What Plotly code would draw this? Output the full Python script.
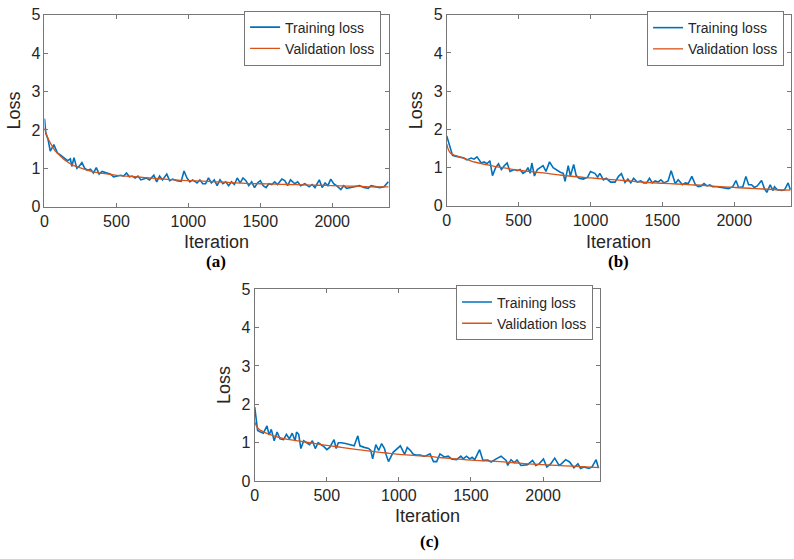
import plotly.graph_objects as go

# ---------------- data ----------------
a_train_iter = [0, 10, 25, 40, 65, 90, 110, 140, 160, 180, 190, 205, 225, 240, 260, 280, 300, 320, 340, 360,
                380, 400, 430, 460, 480, 500, 530, 550, 570, 590, 610, 630, 650, 670, 690, 710, 730, 760, 780, 800,
                820, 850, 870, 890, 920, 950, 970, 990, 1010, 1030, 1060, 1080, 1100, 1120, 1140, 1160, 1180, 1200,
                1220, 1240, 1260, 1280, 1300, 1320, 1340, 1360, 1380, 1400, 1420, 1440, 1460, 1480, 1500, 1520,
                1540, 1560, 1580, 1600, 1620, 1650, 1670, 1690, 1710, 1740, 1760, 1780, 1810, 1840, 1860, 1880,
                1910, 1930, 1950, 1970, 1990, 2010, 2030, 2060, 2080, 2100, 2130, 2160, 2190, 2220, 2250, 2270,
                2300, 2330, 2360, 2390]
a_train_loss = [2.30, 1.90, 1.75, 1.45, 1.62, 1.40, 1.35, 1.25, 1.20, 1.25, 1.05, 1.28, 1.00, 1.05, 1.15, 1.00,
                0.95, 0.98, 0.88, 1.02, 0.85, 0.92, 0.88, 0.85, 0.78, 0.80, 0.82, 0.80, 0.88, 0.78, 0.80, 0.75,
                0.80, 0.70, 0.72, 0.75, 0.70, 0.82, 0.65, 0.80, 0.70, 0.85, 0.68, 0.72, 0.68, 0.66, 0.93, 0.75,
                0.65, 0.70, 0.62, 0.70, 0.60, 0.60, 0.75, 0.62, 0.70, 0.55, 0.70, 0.60, 0.65, 0.55, 0.65, 0.58,
                0.75, 0.62, 0.75, 0.68, 0.55, 0.65, 0.50, 0.62, 0.68, 0.55, 0.50, 0.60, 0.58, 0.65, 0.58, 0.72,
                0.68, 0.55, 0.70, 0.60, 0.65, 0.55, 0.60, 0.52, 0.58, 0.50, 0.70, 0.50, 0.62, 0.55, 0.72, 0.60,
                0.55, 0.45, 0.55, 0.48, 0.50, 0.52, 0.55, 0.50, 0.48, 0.55, 0.52, 0.50, 0.52, 0.65]
a_val_iter = [0, 10, 25, 50, 75, 100, 150, 200, 250, 300, 350, 400, 500, 600, 700, 800, 900, 1000, 1100, 1200,
              1300, 1400, 1500, 1600, 1700, 1800, 1900, 2000, 2100, 2200, 2300, 2390]
a_val_loss = [2.05, 1.92, 1.78, 1.60, 1.45, 1.36, 1.19, 1.08, 1.01, 0.95, 0.90, 0.87, 0.82, 0.79, 0.76, 0.73,
              0.70, 0.68, 0.67, 0.65, 0.63, 0.61, 0.60, 0.59, 0.58, 0.57, 0.56, 0.55, 0.54, 0.53, 0.52, 0.52]

b_train_iter = [0, 20, 40, 60, 90, 120, 140, 170, 190, 210, 240, 260, 280, 300, 318, 340, 360, 380, 400, 420,
                440, 470, 490, 510, 530, 550, 565, 580, 592, 610, 630, 650, 670, 690, 715, 740, 770, 790, 810, 823,
                845, 860, 883, 900, 920, 950, 980, 1000, 1030, 1050, 1065, 1090, 1110, 1140, 1171, 1195, 1215,
                1240, 1260, 1280, 1300, 1325, 1350, 1370, 1390, 1410, 1430, 1450, 1470, 1490, 1510, 1540, 1561,
                1590, 1610, 1640, 1660, 1680, 1705, 1730, 1750, 1770, 1790, 1810, 1830, 1850, 1880, 1900, 1930,
                1960, 1990, 2012, 2030, 2060, 2081, 2100, 2120, 2140, 2160, 2190, 2210, 2227, 2250, 2270, 2280,
                2300, 2330, 2350, 2375, 2390]
b_train_loss = [1.83, 1.55, 1.32, 1.30, 1.28, 1.25, 1.20, 1.25, 1.22, 1.28, 1.12, 1.15, 1.10, 1.18, 0.79, 1.00,
                1.10, 0.95, 1.05, 1.12, 0.90, 0.95, 0.92, 0.95, 0.85, 0.90, 1.00, 0.85, 1.12, 0.78, 0.95, 1.00,
                1.05, 0.90, 1.15, 1.00, 0.92, 0.88, 0.85, 0.64, 1.05, 0.78, 1.08, 0.80, 0.72, 0.70, 0.75, 0.90,
                0.85, 0.75, 0.85, 0.68, 0.72, 0.62, 0.62, 0.77, 0.84, 0.61, 0.70, 0.60, 0.72, 0.62, 0.65, 0.60,
                0.60, 0.72, 0.60, 0.65, 0.62, 0.68, 0.60, 0.65, 0.92, 0.58, 0.68, 0.55, 0.60, 0.58, 0.77, 0.55,
                0.50, 0.52, 0.58, 0.52, 0.55, 0.50, 0.50, 0.48, 0.47, 0.45, 0.50, 0.66, 0.48, 0.50, 0.77, 0.55,
                0.55, 0.48, 0.52, 0.66, 0.45, 0.35, 0.55, 0.40, 0.50, 0.42, 0.40, 0.42, 0.60, 0.42]
b_val_iter = [0, 10, 25, 50, 100, 150, 200, 300, 400, 500, 600, 700, 800, 900, 1000, 1100, 1200, 1300, 1400,
              1500, 1600, 1700, 1800, 1900, 2000, 2100, 2200, 2300, 2390]
b_val_loss = [1.62, 1.48, 1.38, 1.33, 1.27, 1.20, 1.14, 1.06, 0.99, 0.93, 0.89, 0.85, 0.80, 0.76, 0.73, 0.70,
              0.67, 0.64, 0.61, 0.59, 0.57, 0.55, 0.53, 0.50, 0.48, 0.46, 0.44, 0.42, 0.41]

c_train_iter = [0, 20, 40, 60, 85, 100, 115, 135, 155, 175, 200, 220, 240, 260, 280, 290, 305, 320, 340, 360,
                380, 400, 420, 440, 460, 480, 500, 520, 550, 565, 580, 600, 630, 660, 690, 715, 730, 760, 790, 805,
                818, 840, 860, 880, 900, 912, 928, 960, 990, 1010, 1040, 1058, 1080, 1100, 1120, 1150, 1170, 1182,
                1216, 1240, 1262, 1285, 1315, 1342, 1365, 1400, 1430, 1446, 1469, 1492, 1508, 1526, 1560, 1583,
                1617, 1640, 1675, 1709, 1744, 1755, 1778, 1801, 1819, 1847, 1893, 1927, 1950, 1973, 2003, 2026,
                2053, 2081, 2111, 2127, 2157, 2184, 2214, 2242, 2260, 2283, 2318, 2340, 2368, 2384]
c_train_loss = [1.93, 1.32, 1.28, 1.25, 1.44, 1.20, 1.35, 1.05, 1.28, 1.10, 1.08, 1.22, 1.10, 1.25, 1.05, 1.28,
                1.22, 0.85, 1.05, 1.00, 0.95, 1.05, 0.85, 1.00, 0.95, 0.90, 0.82, 0.88, 1.08, 0.85, 1.00, 1.00,
                0.98, 0.95, 0.92, 1.18, 0.92, 0.88, 0.85, 0.80, 0.58, 0.95, 0.80, 0.98, 0.85, 0.68, 0.51, 0.75,
                0.85, 0.92, 0.70, 0.88, 0.80, 0.70, 0.68, 0.68, 0.65, 0.65, 0.71, 0.51, 0.51, 0.71, 0.63, 0.65,
                0.58, 0.56, 0.65, 0.58, 0.65, 0.58, 0.62, 0.56, 0.82, 0.54, 0.55, 0.50, 0.58, 0.65, 0.54, 0.41,
                0.56, 0.48, 0.55, 0.41, 0.43, 0.54, 0.41, 0.45, 0.58, 0.37, 0.45, 0.60, 0.41, 0.45, 0.56, 0.50,
                0.35, 0.45, 0.33, 0.37, 0.33, 0.37, 0.56, 0.35]
c_val_iter = [0, 10, 30, 80, 150, 200, 300, 400, 500, 600, 700, 800, 900, 1000, 1100, 1200, 1300, 1400, 1500,
              1600, 1700, 1800, 1900, 2000, 2100, 2200, 2300, 2390]
c_val_loss = [1.55, 1.45, 1.35, 1.25, 1.16, 1.11, 1.05, 0.99, 0.93, 0.88, 0.83, 0.78, 0.74, 0.70, 0.67, 0.65,
              0.61, 0.58, 0.55, 0.53, 0.51, 0.48, 0.45, 0.43, 0.41, 0.39, 0.37, 0.35]

x_ticks = [0, 500, 1000, 1500, 2000]
y_ticks = [0, 1, 2, 3, 4, 5]
panel_labels = ["(a)", "(b)", "(c)"]
series_names = ["Training loss", "Validation loss"]
x_title = "Iteration"
y_title = "Loss"

# ---------------- style ----------------
BLUE = "#0072BD"
ORANGE = "#D95319"
AX = "#777777"
TXT = "#262626"
SANS = "Liberation Sans, Arial, sans-serif"
SERIF = "Liberation Serif, Times New Roman, serif"
W, H = 794, 559

panels = [
    (a_train_iter, a_train_loss, a_val_iter, a_val_loss),
    (b_train_iter, b_train_loss, b_val_iter, b_val_loss),
    (c_train_iter, c_train_loss, c_val_iter, c_val_loss),
]
# pixel boxes: left, right, top, bottom
boxes = [(40.7, 387, 7, 205), (445, 791, 7, 204), (252, 599, 290, 488)]
legend_pos = [(379, 31), (784, 31.5), (592, 314.5)]   # right edge, vertical centre
xtitle_y = [241, 241, 524]
label_pos = [(213, 261), (618, 261), (428, 550)]

fig = go.Figure()
layout = dict(width=W, height=H, margin=dict(l=0, r=0, t=0, b=0), autosize=False,
              paper_bgcolor="white", plot_bgcolor="white", annotations=[])

for i, (tx, ty, vx, vy) in enumerate(panels):
    sfx = "" if i == 0 else str(i + 1)
    leg = "legend" + sfx
    fig.add_trace(go.Scatter(x=tx, y=ty, mode="lines", name=series_names[0],
                             line=dict(color=BLUE, width=1.6),
                             xaxis="x" + sfx, yaxis="y" + sfx, legend=leg))
    fig.add_trace(go.Scatter(x=vx, y=vy, mode="lines", name=series_names[1],
                             line=dict(color=ORANGE, width=1.3, shape="spline"),
                             xaxis="x" + sfx, yaxis="y" + sfx, legend=leg))
    l, r, t, b = boxes[i]
    axcommon = dict(showline=True, linecolor=AX, linewidth=1, mirror="allticks",
                    ticks="inside", ticklen=4, tickcolor=AX, showgrid=False, zeroline=False,
                    tickfont=dict(family=SANS, size=16, color=TXT))
    layout["xaxis" + sfx] = dict(axcommon, domain=[l / W, r / W], anchor="y" + sfx,
                                 range=[0, 2395], tickvals=x_ticks)
    layout["yaxis" + sfx] = dict(axcommon, domain=[1 - b / H, 1 - t / H], anchor="x" + sfx,
                                 range=[0, 5], tickvals=y_ticks)
    lx, ly = legend_pos[i]
    layout[leg] = dict(x=lx / W, y=1 - ly / H, xanchor="right", yanchor="middle",
                       bgcolor="white", bordercolor=AX, borderwidth=1,
                       font=dict(family=SANS, size=14, color=TXT),
                       tracegroupgap=0, itemwidth=30)
    cx = (l + r) / 2
    layout["annotations"].append(dict(text=x_title, x=cx / W, y=1 - xtitle_y[i] / H, xref="paper", yref="paper",
                                      showarrow=False, xanchor="center", yanchor="middle",
                                      font=dict(family=SANS, size=18, color=TXT)))
    layout["annotations"].append(dict(text=y_title, x=(l - 31) / W, y=1 - ((t + b) / 2) / H,
                                      xref="paper", yref="paper", textangle=-90,
                                      showarrow=False, xanchor="center", yanchor="middle",
                                      font=dict(family=SANS, size=18, color=TXT)))
    px, py = label_pos[i]
    layout["annotations"].append(dict(text="<b>" + panel_labels[i] + "</b>", x=px / W, y=1 - py / H,
                                      xref="paper", yref="paper", showarrow=False,
                                      xanchor="center", yanchor="middle",
                                      font=dict(family=SERIF, size=17, color="black")))

fig.update_layout(**layout)
fig.write_html("out.html", config={"displayModeBar": False},
               post_script="document.body.style.margin='0';document.documentElement.style.margin='0';")
